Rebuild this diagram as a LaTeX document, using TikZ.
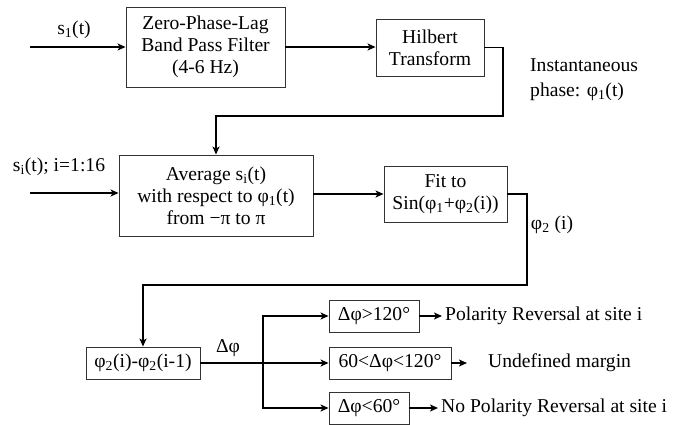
\documentclass[tikz,border=0pt]{standalone}
\usepackage{fontspec}
\setmainfont{Liberation Serif}
\usetikzlibrary{arrows.meta}
\begin{document}
\begin{tikzpicture}[x=1pt,y=-1pt,
  font=\fontsize{19.6}{22}\selectfont,
  blk/.style={draw=black!80,line width=0.9pt,inner sep=0pt,align=center},
  conn/.style={line width=1.6pt,-{Stealth[length=8pt,width=7pt,inset=2pt]}},
  wire/.style={line width=1.6pt},
  lbl/.style={inner sep=0pt}]
\useasboundingbox (0,0) rectangle (685,425);
\fill[white] (0,0) rectangle (685,425);
% blocks
\node[blk,minimum width=159pt,minimum height=80pt] (b1) at (205.5,47) {Zero-Phase-Lag\\Band Pass Filter\\(4-6 Hz)};
\node[blk,minimum width=108pt,minimum height=57pt] (b2) at (430,47.5) {Hilbert\\Transform};
\node[blk,minimum width=194pt,minimum height=81pt] (b3) at (216,195.5) {Average s\textsubscript{i}(t)\\with respect to φ\textsubscript{1}(t)\\from −π to π};
\node[blk,minimum width=123pt,minimum height=56pt] (b4) at (445.5,194) {Fit to\\Sin(φ\textsubscript{1}+φ\textsubscript{2}(i))};
\node[blk,minimum width=114pt,minimum height=32pt] (b5) at (143,363) {φ\textsubscript{2}(i)-φ\textsubscript{2}(i-1)};
\node[blk,minimum width=90pt,minimum height=32pt] (b6) at (374,316) {Δφ>120°};
\node[blk,minimum width=122pt,minimum height=32pt] (b7) at (390,363) {60<Δφ<120°};
\node[blk,minimum width=80pt,minimum height=32pt] (b8) at (369,408) {Δφ<60°};
% coordinates
\coordinate (in1) at (30,47);
\coordinate (in2) at (30,193);
\coordinate (c1) at (503,116);
\coordinate (c2) at (527,285);
\coordinate (br) at (263,363);
\coordinate (t6) at (442,316);
\coordinate (t7) at (467,363);
\coordinate (t8) at (438,408);
% labels
\node[lbl] (l1) at (74,30) {s\textsubscript{1}(t)};
\node[lbl] (l2) at (59,167) {s\textsubscript{i}(t); i=1:16};
\node[lbl,anchor=west,align=left,font=\fontsize{19.6}{25}\selectfont] (l3) at (530,80) {Instantaneous\\phase: φ\textsubscript{1}(t)};
\node[lbl] (l4) at (552,225) {φ\textsubscript{2} (i)};
\node[lbl] (l5) at (228,348) {Δφ};
\node[lbl,anchor=west] (r6) at (445,316) {Polarity Reversal at site i};
\node[lbl,anchor=west] (r7) at (488,363) {Undefined margin};
\node[lbl,anchor=west] (r8) at (441,408) {No Polarity Reversal at site i};
% connectors
\draw[conn] (in1) -- (b1.west);
\draw[conn] (b1.east) -- (b2.west|-b1.east);
\draw[conn] (b2.east) -| (c1) -| (b3.north);
\draw[conn] (in2) -- (b3.west|-in2);
\draw[conn] (b3.east|-b4.west) -- (b4.west);
\draw[conn] (b4.east) -| (c2) -| (b5.north);
\draw[conn] (b5.east) -- (b7.west);
\draw[conn] (br) |- (b6.west);
\draw[conn] (br) |- (b8.west);
\draw[conn] (b6.east) -- (t6);
\draw[conn] (b7.east) -- (t7);
\draw[conn] (b8.east) -- (t8);
\end{tikzpicture}
\end{document}
